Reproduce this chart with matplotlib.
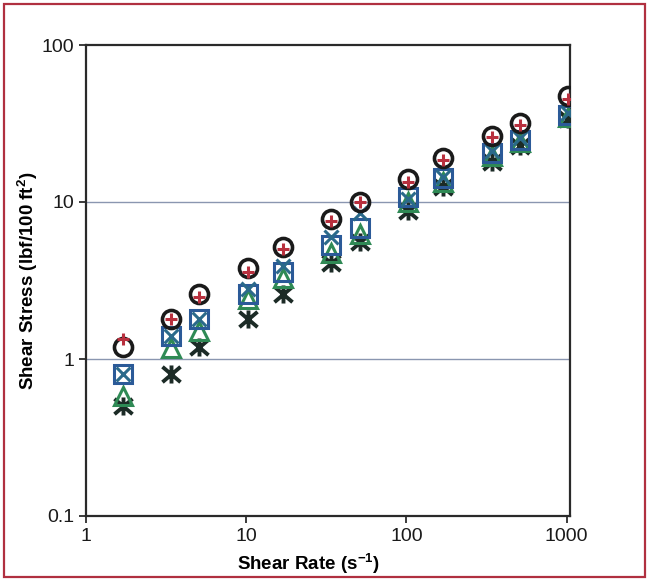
import numpy as np
import matplotlib
matplotlib.use("Agg")
from matplotlib import pyplot as plt
from matplotlib.patches import Rectangle
from matplotlib.path import Path

plt.rcParams['font.family'] = ['Liberation Sans', 'DejaVu Sans']

# shear rates (s-1)
shear_rate = [1.7, 3.4, 5.1, 10.2, 17, 34, 51, 102, 170, 340, 511, 1022]

# shear stress (lbf/100 ft2) per series
circle_vals = [1.2, 1.8, 2.6, 3.8, 5.2, 7.8, 10.0, 14.0, 19.0, 26.5, 32.0, 47.0]
plus_vals = [1.35, 1.8, 2.5, 3.6, 5.0, 7.6, 10.0, 13.5, 18.5, 26.0, 31.0, 45.0]
square_vals = [0.8, 1.4, 1.8, 2.6, 3.6, 5.3, 6.8, 10.7, 14.2, 20.5, 25.0, 36.0]
cross_vals = [0.8, 1.4, 1.8, 2.8, 3.9, 6.0, 8.5, 10.5, 14.5, 21.0, 25.5, 37.0]
triangle_vals = [0.58, 1.17, 1.5, 2.4, 3.3, 4.7, 6.3, 10.0, 13.5, 19.5, 24.0, 35.0]
star_vals = [0.5, 0.8, 1.2, 1.8, 2.6, 4.1, 5.6, 8.8, 12.4, 18.0, 22.7, 34.0]

# X with a vertical bar, like the old Excel star marker
star_marker = Path([(0, -1), (0, 1), (-1, -0.85), (1, 0.85), (-1, 0.85), (1, -0.85)],
                   [Path.MOVETO, Path.LINETO, Path.MOVETO, Path.LINETO, Path.MOVETO, Path.LINETO])

fig = plt.figure(figsize=(6.49, 5.81), dpi=100)
ax = fig.add_axes([86/649, 1-516/581, (570-86)/649, (516-45)/581])

ms = 13
mw = 2.2
ax.plot(shear_rate, star_vals, ls='none', marker=star_marker, ms=ms, mew=mw+0.6, color='#1c2b26', zorder=3)
ax.plot(shear_rate, triangle_vals, ls='none', marker='^', ms=ms, mew=mw, mfc='none', mec='#2f8a55', zorder=4)
ax.plot(shear_rate, square_vals, ls='none', marker='s', ms=ms, mew=mw, mfc='none', mec='#2b5a98', zorder=5)
ax.plot(shear_rate, cross_vals, ls='none', marker='x', ms=ms-3, mew=mw, color='#2b6a8a', zorder=5)
ax.plot(shear_rate, circle_vals, ls='none', marker='o', ms=ms, mew=mw+0.4, mfc='none', mec='#1a1a1a', zorder=6)
ax.plot(shear_rate, plus_vals, ls='none', marker='+', ms=ms-4, mew=mw, color='#b8303e', zorder=7)

ax.set_xscale('log')
ax.set_yscale('log')
ax.set_xlim(1, 1050)
ax.set_ylim(0.1, 100)

ax.set_xticks([1, 10, 100, 1000])
ax.set_xticklabels(['1', '10', '100', '1000'])
ax.set_yticks([0.1, 1, 10, 100])
ax.set_yticklabels(['0.1', '1', '10', '100'])
ax.minorticks_off()
ax.tick_params(direction='out', length=5, width=1.2, labelsize=14, colors='#1a1a1a')

for v in [1, 10]:
    ax.axhline(v, color='#8a96b0', lw=1.0, zorder=1)

for s in ax.spines.values():
    s.set_linewidth(1.6)
    s.set_color('#2a2a2a')

ax.set_xlabel('Shear Rate (s$^{\\mathregular{-1}}$)', fontsize=13.5, fontweight='bold')
ax.xaxis.set_label_coords(0.46, -0.075)
ax.set_ylabel('Shear Stress (lbf/100 ft$^{\\mathregular{2}}$)', fontsize=13.5, fontweight='bold')
ax.yaxis.set_label_coords(-0.095, 0.5)

# outer border
fig.patches.append(Rectangle((4/649, 4/581), 641/649, 573/581, transform=fig.transFigure,
                             fill=False, edgecolor='#b03040', lw=1.6))

fig.savefig('out.png', dpi=100)
